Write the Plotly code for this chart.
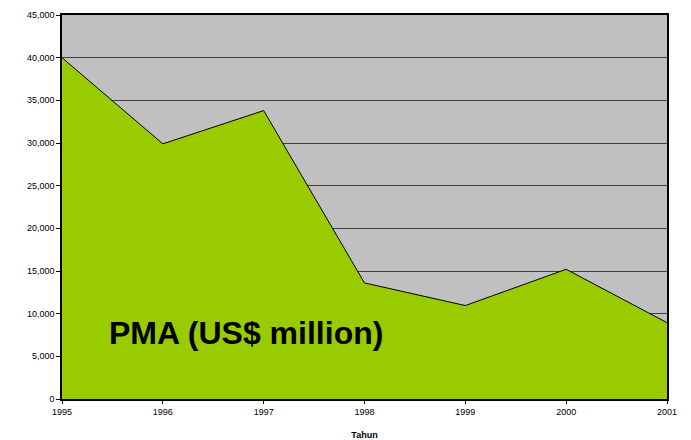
import plotly.graph_objects as go

years = [1995, 1996, 1997, 1998, 1999, 2000, 2001]
pma_values = [40000, 29900, 33800, 13600, 10950, 15200, 8950]
y_ticks = list(range(0, 45001, 5000))
y_tick_labels = [f"{v:,}" for v in y_ticks]
series_label = "PMA (US$ million)"
x_title = "Tahun"

fig = go.Figure()
fig.add_trace(go.Scatter(
    x=years, y=pma_values, mode="lines", fill="tozeroy",
    fillcolor="#99CC00", line=dict(color="#000000", width=1),
    hoverinfo="x+y", showlegend=False,
))

fig.add_annotation(
    x=1996.82, y=7734, xref="x", yref="y", text=f"<b>{series_label}</b>",
    showarrow=False, font=dict(family="Liberation Sans, Arial", size=32, color="#000000"),
)

fig.update_layout(
    width=691, height=440,
    margin=dict(l=62, r=24, t=15, b=41),
    paper_bgcolor="#FFFFFF", plot_bgcolor="#C0C0C0",
    font=dict(family="Liberation Sans, Arial", size=9, color="#000000"),
)
fig.update_xaxes(
    range=[1995, 2001], tickvals=years, ticktext=[str(y) for y in years],
    showgrid=False, showline=True, linecolor="#000000", linewidth=1.5, mirror=True,
    ticks="outside", ticklen=3, tickcolor="#000000", tickfont=dict(size=9),
    title=dict(text=f"<b>{x_title}</b>", font=dict(size=9), standoff=18),
    zeroline=False, fixedrange=True, automargin=False,
)
fig.update_yaxes(
    range=[0, 45000], tickvals=y_ticks, ticktext=y_tick_labels,
    showgrid=True, gridcolor="#404040", gridwidth=1,
    showline=True, linecolor="#000000", linewidth=1.5, mirror=True,
    ticks="outside", ticklen=4, tickcolor="#000000", tickfont=dict(size=9),
    zeroline=False, fixedrange=True, automargin=False,
)

fig.write_html("out.html")
